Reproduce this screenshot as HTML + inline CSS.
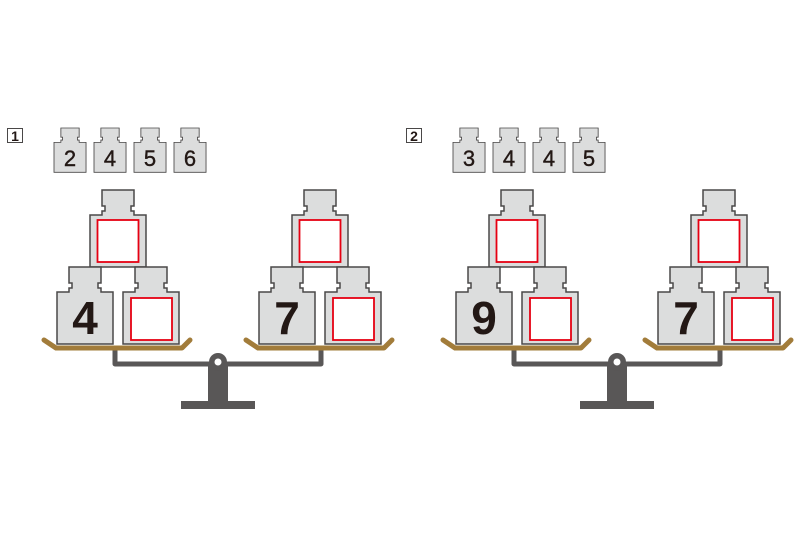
<!DOCTYPE html>
<html><head><style>
html,body{margin:0;padding:0;background:#fff}
svg{display:block}
text{font-family:"Liberation Sans",sans-serif}
</style></head><body>
<svg width="800" height="533" viewBox="0 0 800 533" xmlns="http://www.w3.org/2000/svg">
<defs>
<path id="w" d="M12,0 H44 V16 H41 V21 H44 V25 H56 V77 H0 V25 H12 V21 H15 V16 H12 Z" fill="#dcdddd" stroke="#4a4848" stroke-width="1.5" stroke-linejoin="miter"/>
<g id="scale">
  <polyline points="115,349 115,364 321,364 321,349" fill="none" stroke="#595757" stroke-width="5" stroke-linejoin="round"/>
  <rect x="208" y="362" width="20" height="42" fill="#595757"/>
  <rect x="181" y="401" width="74" height="8" fill="#595757"/>
  <circle cx="218" cy="362" r="9" fill="#595757"/>
  <circle cx="218" cy="362" r="3.5" fill="#fff"/>
  <polyline points="44,340 56,348 182,348 190,340" fill="none" stroke="#a27c3a" stroke-width="5" stroke-linecap="round" stroke-linejoin="round"/>
  <polyline points="246,340 258,348 384,348 392,340" fill="none" stroke="#a27c3a" stroke-width="5" stroke-linecap="round" stroke-linejoin="round"/>
  <use href="#w" x="90" y="190"/>
  <use href="#w" x="57" y="267"/>
  <use href="#w" x="123" y="267"/>
  <use href="#w" x="292" y="190"/>
  <use href="#w" x="259" y="267"/>
  <use href="#w" x="325" y="267"/>
  <rect x="97.5" y="220" width="41" height="42" fill="#fff" stroke="#e60012" stroke-width="1.8"/>
  <rect x="131" y="298" width="41" height="42" fill="#fff" stroke="#e60012" stroke-width="1.8"/>
  <rect x="299.5" y="220" width="41" height="42" fill="#fff" stroke="#e60012" stroke-width="1.8"/>
  <rect x="333" y="298" width="41" height="42" fill="#fff" stroke="#e60012" stroke-width="1.8"/>
  <g transform="translate(54,128) scale(0.572,0.575)"><use href="#w"/></g>
  <g transform="translate(94,128) scale(0.572,0.575)"><use href="#w"/></g>
  <g transform="translate(134,128) scale(0.572,0.575)"><use href="#w"/></g>
  <g transform="translate(174,128) scale(0.572,0.575)"><use href="#w"/></g>
  <rect x="7.5" y="128.5" width="15" height="14" fill="#fff" stroke="#4a4848" stroke-width="1"/>
</g>
</defs>
<use href="#scale"/>
<use href="#scale" x="399"/>
<g font-size="14" font-weight="bold" text-anchor="middle" fill="#231815">
<text x="15" y="141">1</text>
<text x="414" y="141">2</text>
</g>
<g font-size="22" text-anchor="middle" fill="#231815" stroke="#231815" stroke-width="0.4">
<text x="70" y="166">2</text><text x="110" y="166">4</text><text x="150" y="166">5</text><text x="190" y="166">6</text>
<text x="469" y="166">3</text><text x="509" y="166">4</text><text x="549" y="166">4</text><text x="589" y="166">5</text>
</g>
<g font-size="46" font-weight="bold" text-anchor="middle" fill="#231815">
<text x="85" y="334">4</text>
<text x="287" y="334">7</text>
<text x="484" y="334">9</text>
<text x="686" y="334">7</text>
</g>
</svg>
</body></html>
